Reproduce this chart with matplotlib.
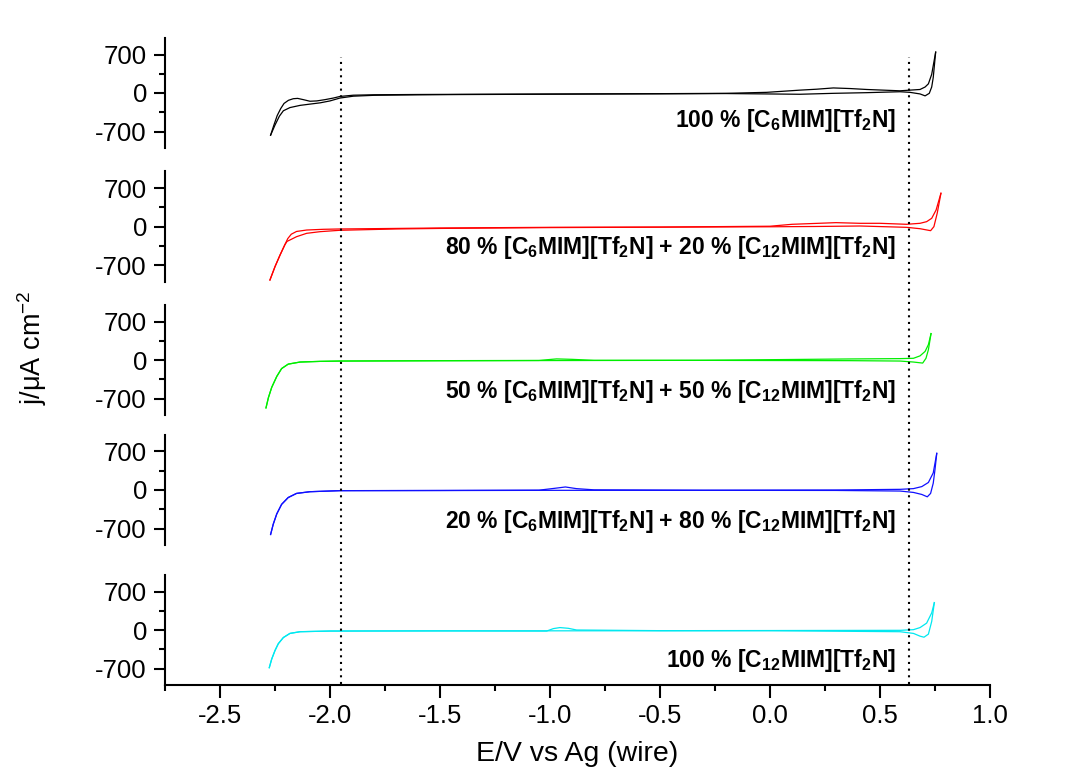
import numpy as np
import matplotlib
matplotlib.use("Agg")
import matplotlib.pyplot as plt
from matplotlib.ticker import MultipleLocator, FormatStrFormatter

plt.rcParams['font.family'] = ['Liberation Sans', 'DejaVu Sans']
plt.rcParams['axes.unicode_minus'] = False
plt.rcParams['mathtext.fontset'] = 'custom'
plt.rcParams['mathtext.rm'] = 'Liberation Sans'
plt.rcParams['mathtext.it'] = 'Liberation Sans:italic'
plt.rcParams['mathtext.bf'] = 'Liberation Sans:bold'

# ---- data (E in V, j in uA cm^-2) ----
# 100 % C6 (black)
k_ea = [-2.270, -2.255, -2.240, -2.224, -2.209, -2.189, -2.167, -2.147, -2.121, -2.091, -2.060, -2.023, -1.985,
        -1.955, -1.894, -1.80, -1.60, -1.40, -1.00, -0.50, -0.20, -0.015, 0.136, 0.212, 0.288, 0.364, 0.44, 0.515,
        0.591, 0.636, 0.682, 0.705, 0.720, 0.735, 0.753]
k_ja = [-767, -583, -410, -283, -190, -133, -104, -98, -121, -150, -144, -121, -92,
        -63, -40, -32, -27, -24, -18, -12, -6, 12, 52, 69, 92, 81, 64, 52,
        40, 52, 64, 109, 167, 340, 743]
k_eb = [-2.270, -2.250, -2.230, -2.212, -2.182, -2.136, -2.091, -2.045, -2.000, -1.955, -1.894, -1.80, -1.60,
        -1.40, -1.00, -0.50, -0.20, -0.015, 0.136, 0.288, 0.44, 0.591, 0.636, 0.682, 0.705, 0.724, 0.735,
        0.742, 0.753]
k_jb = [-767, -583, -421, -323, -265, -225, -202, -179, -144, -92, -58, -42, -33,
        -28, -22, -15, -10, -17, -23, -6, 6, 23, 12, -17, -52, -6, 109,
        282, 743]

# 80 % C6 + 20 % C12 (red)
r_ea = [-2.273, -2.250, -2.227, -2.205, -2.192, -2.176, -2.152, -2.106, -2.030, -1.955, -1.70, -1.50, -1.00,
        -0.50, 0.0, 0.10, 0.30, 0.409, 0.50, 0.621, 0.682, 0.712, 0.735, 0.755, 0.777]
r_ja = [-973, -730, -518, -330, -220, -140, -90, -64, -51, -45, -35, -27, -15,
        -10, 5, 40, 70, 58, 58, 40, 58, 88, 149, 300, 604]
r_eb = [-2.273, -2.250, -2.227, -2.205, -2.195, -2.182, -2.152, -2.106, -2.045, -1.955, -1.70, -1.50, -1.00,
        -0.50, 0.0, 0.20, 0.409, 0.621, 0.682, 0.730, 0.745, 0.760, 0.777]
r_jb = [-973, -730, -518, -330, -270, -245, -185, -124, -94, -69, -45, -35, -20,
        -12, -5, 0, 9, -15, -40, -76, -3, 240, 604]

# 50 % C6 + 50 % C12 (green)
g_ea = [-2.291, -2.280, -2.265, -2.242, -2.220, -2.190, -2.136, -2.045, -1.955, -1.50, -1.05, -0.97, -0.90,
        -0.80, -0.318, -0.159, 0.364, 0.591, 0.652, 0.682, 0.705, 0.720, 0.732]
g_ja = [-871, -685, -498, -299, -156, -75, -37, -25, -19, -12, -8, 20, 12,
        -6, -6, 0, 19, 25, 31, 75, 156, 280, 480]
g_eb = [-2.291, -2.280, -2.265, -2.242, -2.220, -2.190, -2.136, -2.045, -1.955, -1.50, -1.00, -0.318, -0.159,
        0.364, 0.591, 0.652, 0.694, 0.709, 0.720, 0.732]
g_jb = [-871, -685, -498, -299, -156, -75, -37, -25, -19, -14, -10, -6, -8,
        -12, -19, -37, -56, 31, 187, 480]

# 20 % C6 + 80 % C12 (blue)
b_ea = [-2.270, -2.258, -2.242, -2.220, -2.190, -2.152, -2.091, -1.955, -1.50, -1.05, -0.98, -0.93, -0.88,
        -0.80, -0.30, 0.30, 0.591, 0.652, 0.690, 0.720, 0.742, 0.758]
b_ja = [-809, -622, -435, -261, -137, -62, -31, -12, -8, -3, 30, 55, 25,
        3, -4, 0, 12, 25, 62, 137, 311, 666]
b_eb = [-2.270, -2.258, -2.242, -2.220, -2.190, -2.152, -2.091, -1.955, -1.50, -1.00, -0.30, 0.30, 0.591,
        0.652, 0.690, 0.715, 0.730, 0.742, 0.750, 0.758]
b_jb = [-809, -622, -435, -261, -137, -62, -31, -12, -10, -6, -6, -8, -19,
        -44, -81, -124, -62, 124, 373, 666]

# 100 % C12 (cyan)
c_ea = [-2.276, -2.265, -2.250, -2.235, -2.212, -2.182, -2.136, -2.000, -1.50, -1.015, -0.985, -0.955, -0.917,
        -0.879, -0.50, 0.0, 0.591, 0.652, 0.682, 0.712, 0.735, 0.747]
c_ja = [-685, -529, -373, -249, -137, -62, -31, -19, -15, -19, 25, 44, 31,
        0, -12, -10, -6, 6, 44, 125, 311, 498]
c_eb = [-2.276, -2.265, -2.250, -2.235, -2.212, -2.182, -2.136, -2.000, -1.50, -1.00, -0.50, 0.0, 0.591,
        0.652, 0.682, 0.700, 0.720, 0.735, 0.747]
c_jb = [-685, -529, -373, -249, -137, -62, -31, -19, -17, -15, -14, -13, -31,
        -62, -112, -131, -75, 155, 498]

panels = [
    (k_ea, k_ja, k_eb, k_jb, 'black', r'100 % [C$_\mathbf{6}$MIM][Tf$_\mathbf{2}$N]'),
    (r_ea, r_ja, r_eb, r_jb, '#ff0000',
     r'80 % [C$_\mathbf{6}$MIM][Tf$_\mathbf{2}$N] + 20 % [C$_\mathbf{12}$MIM][Tf$_\mathbf{2}$N]'),
    (g_ea, g_ja, g_eb, g_jb, '#00ee00',
     r'50 % [C$_\mathbf{6}$MIM][Tf$_\mathbf{2}$N] + 50 % [C$_\mathbf{12}$MIM][Tf$_\mathbf{2}$N]'),
    (b_ea, b_ja, b_eb, b_jb, '#1010ff',
     r'20 % [C$_\mathbf{6}$MIM][Tf$_\mathbf{2}$N] + 80 % [C$_\mathbf{12}$MIM][Tf$_\mathbf{2}$N]'),
    (c_ea, c_ja, c_eb, c_jb, '#00e8f0', r'100 % [C$_\mathbf{12}$MIM][Tf$_\mathbf{2}$N]'),
]
limit_lines = [-1.95, 0.63]

# ---- layout (pixels) ----
W, H = 1081, 772
fig = plt.figure(figsize=(W / 100, H / 100), dpi=100)
x0, x1 = 165, 990
zero_px = [93, 226.5, 360, 490, 630]
label_base = [127, 254, 398, 528, 667]
half = 55

for i, (ea, ja, eb, jb, col, lab) in enumerate(panels):
    z = zero_px[i]
    ax = fig.add_axes([x0 / W, 1 - (z + half) / H, (x1 - x0) / W, 2 * half / H])
    ax.set_facecolor('none')
    ax.plot(ea, ja, color=col, lw=0.9)
    ax.plot(eb, jb, color=col, lw=0.9)
    ax.set_xlim(-2.75, 1.0)
    ax.set_ylim(-1000, 1000)
    ax.set_yticks([-700, 0, 700])
    ax.yaxis.set_minor_locator(MultipleLocator(350))
    for s in ['top', 'right']:
        ax.spines[s].set_visible(False)
    ax.spines['left'].set_linewidth(1.5)
    ax.tick_params(axis='y', which='major', direction='out', length=8, width=1.5, labelsize=18.5, pad=5)
    ax.tick_params(axis='y', which='minor', direction='out', length=4, width=1.5)
    if i < 4:
        ax.spines['bottom'].set_visible(False)
        ax.set_xticks([])
    else:
        ax.spines['bottom'].set_linewidth(1.5)
        ax.xaxis.set_major_locator(MultipleLocator(0.5))
        ax.xaxis.set_minor_locator(MultipleLocator(0.25))
        ax.xaxis.set_major_formatter(FormatStrFormatter('%.1f'))
        ax.tick_params(axis='x', which='major', direction='out', length=9, width=1.5, labelsize=18.5, pad=5)
        ax.tick_params(axis='x', which='minor', direction='out', length=4.5, width=1.5)
        ax.set_xlabel('E/V vs Ag (wire)', fontsize=20.5, labelpad=9)
    fig.text(896 / W, 1 - label_base[i] / H, lab, ha='right', va='baseline',
             fontsize=16.5, fontweight='bold')

# dotted potential-window markers across all panels
ov = fig.add_axes([x0 / W, 1 - 684 / H, (x1 - x0) / W, (684 - 57) / H])
ov.set_xlim(-2.75, 1.0)
ov.set_ylim(0, 1)
ov.axis('off')
for e in limit_lines:
    ov.axvline(e, color='black', lw=1.5, ls=(0, (1, 2.2)))

fig.text(32 / W, 1 - 348 / H, 'j/μA cm$^{-2}$', rotation=90, ha='center', va='center', fontsize=19.5)

fig.savefig('out.png', dpi=100)
